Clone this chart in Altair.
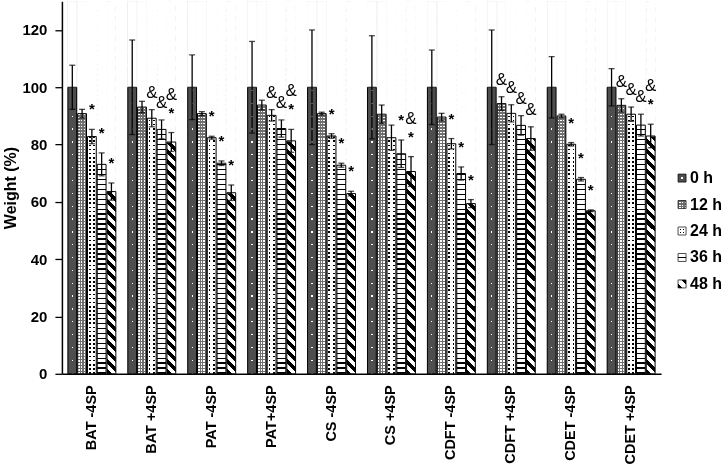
import altair as alt
import pandas as pd

groups = ["BAT -4SP", "BAT +4SP", "PAT -4SP", "PAT+4SP", "CS -4SP",
          "CS +4SP", "CDFT -4SP", "CDFT +4SP", "CDET -4SP", "CDET +4SP"]
times = ["0 h", "12 h", "24 h", "36 h", "48 h"]

w0 = [100, 100, 100, 100, 100, 100, 100, 100, 100, 100]
w12 = [90.8, 93.1, 90.8, 93.8, 90.8, 90.6, 89.6, 94.3, 90.0, 93.7]
w24 = [82.8, 89.2, 82.4, 90.2, 83.0, 82.4, 80.3, 90.9, 80.1, 90.6]
w36 = [73.1, 85.3, 73.5, 85.6, 72.8, 76.8, 69.9, 86.7, 67.9, 86.8]
w48 = [63.6, 80.9, 63.2, 81.3, 62.9, 70.6, 59.4, 82.1, 56.9, 83.0]

sd0 = [7.7, 16.5, 11.3, 16.0, 20.0, 18.0, 13.0, 20.0, 10.7, 6.5]
sd12 = [1.5, 2.0, 0.7, 1.7, 0.5, 3.2, 1.3, 2.4, 0.6, 2.3]
sd24 = [2.5, 3.0, 0.5, 2.0, 0.8, 4.4, 1.8, 3.0, 0.6, 2.5]
sd36 = [4.0, 3.3, 0.8, 3.0, 0.7, 4.8, 2.3, 3.4, 0.6, 3.8]
sd48 = [3.0, 3.3, 2.7, 4.0, 0.8, 5.2, 1.4, 4.1, 0.3, 4.1]

# significance marks: 1 = shown
star0 = [0, 0, 0, 0, 0, 0, 0, 0, 0, 0]
star12 = [0, 0, 0, 0, 0, 0, 0, 0, 0, 0]
star24 = [1, 0, 1, 0, 1, 0, 1, 0, 1, 0]
star36 = [1, 0, 1, 0, 1, 1, 1, 0, 1, 0]
star48 = [1, 1, 1, 1, 1, 1, 1, 0, 1, 1]
amp0 = [0, 0, 0, 0, 0, 0, 0, 0, 0, 0]
amp12 = [0, 0, 0, 0, 0, 0, 0, 1, 0, 1]
amp24 = [0, 1, 0, 1, 0, 0, 0, 1, 0, 1]
amp36 = [0, 1, 0, 1, 0, 0, 0, 1, 0, 1]
amp48 = [0, 1, 0, 1, 0, 1, 0, 1, 0, 1]

y_ticks = [0, 10, 20, 30, 40, 50, 60, 70, 80, 90, 100, 110, 120]

means = [w0, w12, w24, w36, w48]
sds = [sd0, sd12, sd24, sd36, sd48]
stars = [star0, star12, star24, star36, star48]
amps = [amp0, amp12, amp24, amp36, amp48]

rows = []
for ti, t in enumerate(times):
    for gi, g in enumerate(groups):
        m = means[ti][gi]
        s = sds[ti][gi]
        st = stars[ti][gi]
        am = amps[ti][gi]
        rows.append({"group": g, "time": t, "mean": m, "lo": m - s, "hi": m + s,
                     "star": st, "amp": am,
                     "ampkind": ("with" if st else "alone") if am else "none"})
df = pd.DataFrame(rows)

FONT = "Liberation Sans, Arial, sans-serif"
W, H = 600, 373


def seg_grad(segments, x1, y1, x2, y2):
    stops = []
    pos = 0.0
    for frac, col in segments:
        end = min(1.0, pos + frac)
        stops.append({"offset": round(pos, 5), "color": col})
        stops.append({"offset": round(end, 5), "color": col})
        pos = end
    return {"gradient": "linear", "x1": x1, "y1": y1, "x2": x2, "y2": y2, "stops": stops}


def periodic(n, pattern):
    segs = []
    for _ in range(n):
        for frac, col in pattern:
            segs.append((frac / n, col))
    return segs


WH, BK = "#ffffff", "#000000"
G0, G12 = "#4e4e4e", "#707070"

# bar patterns (each bar painted over the full plot height, then cropped)
bar_w = 8.8
k = (bar_w + H) / (bar_w ** 2 + H ** 2)
diag_bar = seg_grad(periodic(38, [(0.5, BK), (0.5, WH)]), 0, 1, k * bar_w, 1 - k * H)

patterns = {
    "0 h": (seg_grad([(0.43, G0), (0.14, WH), (0.43, G0)], 0, 0, 1, 0),
            seg_grad(periodic(29, [(0.9, G0), (0.1, WH)]), 0, 0, 0, 1), "darken"),
    "12 h": (seg_grad([(0.08, G12), (0.17, WH), (0.125, G12), (0.17, WH), (0.125, G12), (0.17, WH), (0.16, G12)], 0, 0, 1, 0),
             seg_grad(periodic(124, [(0.5, G12), (0.5, WH)]), 0, 0, 0, 1), "darken"),
    "24 h": (seg_grad([(0.15, WH), (0.2, BK), (0.3, WH), (0.2, BK), (0.15, WH)], 0, 0, 1, 0),
             seg_grad(periodic(90, [(0.6, WH), (0.4, BK)]), 0, 0, 0, 1), "lighten"),
    "36 h": (seg_grad(periodic(75, [(0.72, WH), (0.28, BK)]), 0, 0, 0, 1), None, None),
    "48 h": (diag_bar, None, None),
}

leg_patterns = {
    "0 h": (seg_grad([(0.4, G0), (0.2, WH), (0.4, G0)], 0, 0, 1, 0),
            seg_grad([(0.4, G0), (0.2, WH), (0.4, G0)], 0, 0, 0, 1), "darken"),
    "12 h": (seg_grad(periodic(3, [(0.5, G12), (0.5, WH)]), 0, 0, 1, 0),
             seg_grad(periodic(3, [(0.5, G12), (0.5, WH)]), 0, 0, 0, 1), "darken"),
    "24 h": (seg_grad([(0.2, WH), (0.2, BK), (0.2, WH), (0.2, BK), (0.2, WH)], 0, 0, 1, 0),
             seg_grad([(0.2, WH), (0.2, BK), (0.2, WH), (0.2, BK), (0.2, WH)], 0, 0, 0, 1), "lighten"),
    "36 h": (seg_grad([(0.42, WH), (0.16, BK), (0.42, WH)], 0, 0, 0, 1), None, None),
    "48 h": (seg_grad([(0.3, BK), (0.4, WH), (0.3, BK)], 0, 1, 1, 0), None, None),
}

x_enc = alt.X("group:N", sort=groups,
              scale=alt.Scale(paddingInner=0.2, paddingOuter=0.1),
              axis=alt.Axis(title=None, labelAngle=-90, ticks=False, labelPadding=11,
                            labelFont=FONT, labelFontSize=14.5, labelFontWeight="bold",
                            labelColor="black", domainColor="black", domainWidth=1.5))
xo_enc = alt.XOffset("time:N", sort=times, scale=alt.Scale(paddingInner=0.1, paddingOuter=0))
y_main = alt.Y("mean:Q", stack=None,
               scale=alt.Scale(domain=[0, 130], nice=False, zero=True),
               axis=alt.Axis(title="Weight (%)", values=y_ticks,
                             labelExpr="datum.value % 20 == 0 ? datum.label : ''",
                             tickSize=7, tickColor="black", tickWidth=1.3,
                             domainColor="black", domainWidth=1.5,
                             labelFont=FONT, labelFontSize=15, labelFontWeight="bold",
                             labelColor="black", labelPadding=8,
                             titleFont=FONT, titleFontSize=16, titleFontWeight="bold",
                             titleColor="black", titlePadding=3, grid=False))

base = alt.Chart(df)
layers = []
for t in times:
    a, b, blend = patterns[t]
    sub = base.transform_filter(alt.datum.time == t)
    layers.append(sub.mark_bar(fill=a, strokeWidth=0).encode(
        x=x_enc, xOffset=xo_enc, y=alt.Y(datum=130), y2=alt.Y2(datum=0)))
    if b is not None:
        layers.append(sub.mark_bar(fill=b, strokeWidth=0, blend=blend).encode(
            x=x_enc, xOffset=xo_enc, y=alt.Y(datum=130), y2=alt.Y2(datum=0)))

cover = base.mark_bar(fill="white", stroke="white", strokeWidth=1).encode(
    x=x_enc, xOffset=xo_enc, y=alt.Y("mean:Q"), y2=alt.Y2(datum=130))
outline = base.mark_bar(fill="transparent", stroke="black", strokeWidth=1).encode(
    x=x_enc, xOffset=xo_enc, y=y_main)
err = base.mark_rule(color="black", strokeWidth=1.3).encode(
    x=x_enc, xOffset=xo_enc, y="lo:Q", y2="hi:Q")
cap_hi = base.mark_tick(color="black", thickness=1.3, size=6).encode(
    x=x_enc, xOffset=xo_enc, y="hi:Q")
cap_lo = base.mark_tick(color="black", thickness=1.3, size=6).encode(
    x=x_enc, xOffset=xo_enc, y="lo:Q")
star_t = base.transform_filter(alt.datum.star == 1).mark_text(
    text="*", font=FONT, fontSize=15, fontWeight="bold", color="black", dy=-20).encode(
    x=x_enc, xOffset=xo_enc, y="hi:Q")
amp1 = base.transform_filter(alt.datum.ampkind == "alone").mark_text(
    text="&", font=FONT, fontSize=17, color="black", dy=-17).encode(
    x=x_enc, xOffset=xo_enc, y="hi:Q")
amp2 = base.transform_filter(alt.datum.ampkind == "with").mark_text(
    text="&", font=FONT, fontSize=17, color="black", dy=-38).encode(
    x=x_enc, xOffset=xo_enc, y="hi:Q")

main = alt.layer(*layers, cover, outline, err, cap_hi, cap_lo, star_t, amp1, amp2).properties(
    width=W, height=H)

# legend panel
leg_df = pd.DataFrame({"time": times})
ly = alt.Y("time:N", sort=times, axis=None,
           scale=alt.Scale(domain=times, range=[177, 283], padding=0))
lbase = alt.Chart(leg_df)
leg_layers = []
for t in times:
    a, b, blend = leg_patterns[t]
    sub = lbase.transform_filter(alt.datum.time == t)
    leg_layers.append(sub.mark_square(size=64, fill=a, fillOpacity=1, strokeWidth=0).encode(
        y=ly, x=alt.value(21)))
    if b is not None:
        leg_layers.append(sub.mark_square(size=64, fill=b, fillOpacity=1, strokeWidth=0, blend=blend).encode(
            y=ly, x=alt.value(21)))
leg_layers.append(lbase.mark_square(size=64, fill="transparent", stroke="black", strokeWidth=1).encode(
    y=ly, x=alt.value(21)))
leg_layers.append(lbase.mark_text(align="left", baseline="middle", font=FONT, fontSize=16,
                                  fontWeight="bold", color="black").encode(
    y=ly, x=alt.value(29), text="time:N"))
legend = alt.layer(*leg_layers).properties(width=60, height=H)

chart = alt.hconcat(main, legend, spacing=0).properties(
    padding={"left": 2, "top": 0, "right": 0, "bottom": 0}
).configure_view(stroke=None).configure_concat(spacing=0)

chart.save("out.html", embed_options={"renderer": "svg", "actions": False})
